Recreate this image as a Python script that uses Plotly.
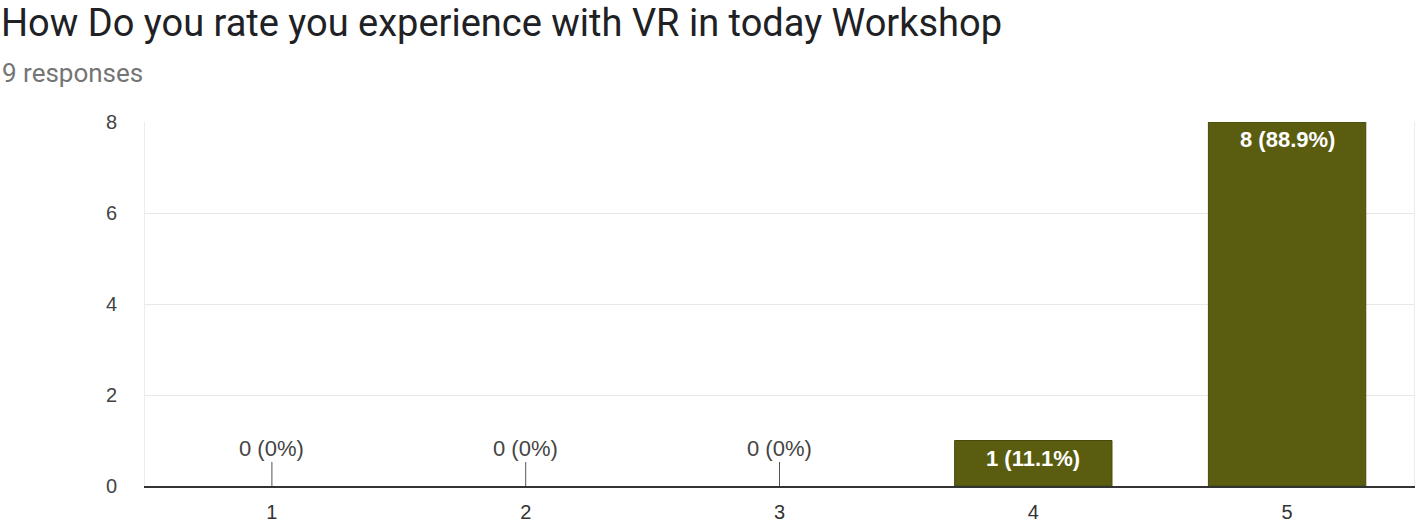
import plotly.graph_objects as go

categories = ["1", "2", "3", "4", "5"]
counts = [0, 0, 0, 1, 8]
percent_labels = ["0%", "0%", "0%", "11.1%", "88.9%"]
y_ticks = [0, 2, 4, 6, 8]

title_text = "How Do you rate you experience with VR in today Workshop"
subtitle_text = "9 responses"

W, H = 1418, 523
ML, MR, MT, MB = 145, 4, 122, 37
plot_w = W - ML - MR
plot_h = H - MT - MB

bar_color = "#5a5d10"
bar_line = "#474a0a"
font_family = "Liberation Sans, Arial, sans-serif"

fig = go.Figure()
fig.add_trace(go.Bar(
    x=list(range(len(categories))), y=counts, width=0.62,
    marker=dict(color=bar_color,
                line=dict(color=bar_line, width=[0 if v == 0 else 1 for v in counts])),
    hoverinfo="skip",
))

annotations = []
for i, (v, p) in enumerate(zip(counts, percent_labels)):
    label = f"{v} ({p})"
    if v == 0:
        annotations.append(dict(
            x=i, y=v, xref="x", yref="y", text=label,
            showarrow=True, arrowhead=0, arrowwidth=1, arrowcolor="#555555",
            ax=0, ay=-38, standoff=0,
            font=dict(family=font_family, size=22, color="#444444"),
        ))
    else:
        annotations.append(dict(
            x=i, y=v, xref="x", yref="y", text=f"<b>{label}</b>",
            showarrow=False, yanchor="top", yshift=-3,
            font=dict(family=font_family, size=22, color="#ffffff"),
        ))

annotations.append(dict(
    x=(0 - ML) / plot_w, y=1 + MT / plot_h, xref="paper", yref="paper",
    xanchor="left", yanchor="top", borderpad=0, showarrow=False, text=title_text,
    font=dict(family="Roboto, sans-serif", size=38, color="#202124"),
))
annotations.append(dict(
    x=(0 - ML) / plot_w, y=1 + (MT - 73) / plot_h, xref="paper", yref="paper",
    xanchor="left", yanchor="middle", showarrow=False, text=subtitle_text,
    font=dict(family="Roboto, sans-serif", size=26, color="#757575"),
))

fig.update_layout(
    width=W, height=H,
    margin=dict(l=ML, r=MR, t=MT, b=MB, autoexpand=False),
    paper_bgcolor="white", plot_bgcolor="white",
    showlegend=False,
    annotations=annotations,
    xaxis=dict(
        tickvals=list(range(len(categories))), ticktext=categories,
        showgrid=False, zeroline=False, showline=True, linecolor="#333333", linewidth=2,
        ticks="", ticklabelstandoff=7, automargin=False,
        tickfont=dict(family=font_family, size=20, color="#333333"),
        range=[-0.5, 4.5], fixedrange=True,
    ),
    yaxis=dict(
        range=[0, 8], tickvals=y_ticks, ticktext=[str(t) for t in y_ticks],
        showgrid=True, gridcolor="#e8e8e8", gridwidth=1, zeroline=False,
        showline=True, linecolor="#ececec", linewidth=1, mirror=True,
        ticks="", ticklabelstandoff=23, automargin=False,
        tickfont=dict(family=font_family, size=20, color="#444444"),
        fixedrange=True,
    ),
)

fig.write_html(
    "out.html",
    config={"displayModeBar": False},
    post_script="document.body.style.margin='0';document.body.style.overflow='hidden';",
)
